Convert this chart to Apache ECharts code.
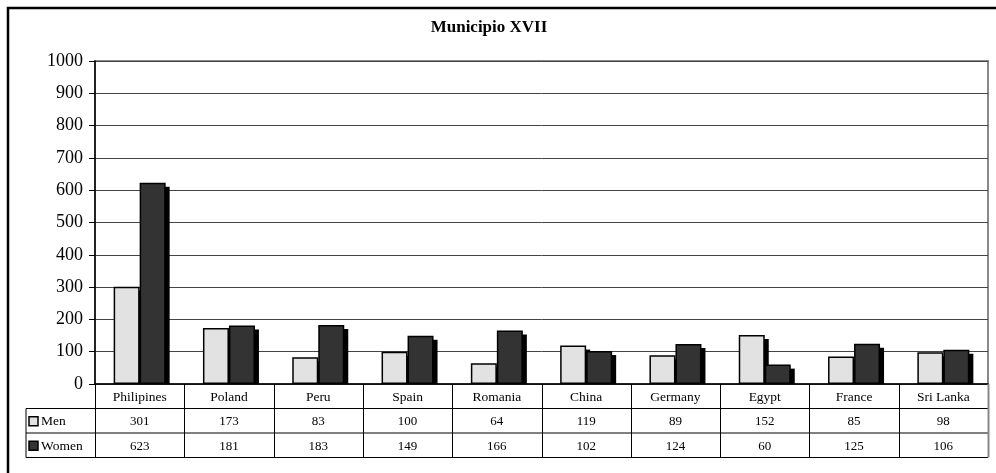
<!DOCTYPE html>
<html><head><meta charset="utf-8">
<script src="https://cdn.jsdelivr.net/npm/echarts@6/dist/echarts.min.js"></script>
<style>html,body{margin:0;padding:0;background:#fff}#c{width:996px;height:473px}</style>
</head><body><div id="c"></div>
<script>
const categories = ['Philipines','Poland','Peru','Spain','Romania','China','Germany','Egypt','France','Sri Lanka'];
const men = [301,173,83,100,64,119,89,152,85,98];
const women = [623,181,183,149,166,102,124,60,125,106];
const seriesNames = ['Men','Women'];
const yTicks = [0,100,200,300,400,500,600,700,800,900,1000];

const FONT = '"Liberation Serif","Times New Roman",serif';
const MEN_COLOR = '#e2e2e2', WOMEN_COLOR = '#333333';
const BAR_W = 26, SH = 4;
const chart = echarts.init(document.getElementById('c'), null, {renderer:'canvas'});

function shadowSeries(arr, idx){
  return {
    type:'custom', z:1, silent:true,
    data: arr.map((v,i)=>[i,v]),
    renderItem:(params, api)=>{
      const top = api.coord([api.value(0), api.value(1)]);
      const base = api.coord([api.value(0), 0]);
      const x = top[0] + (idx===0 ? -BAR_W : 0) + SH;
      const y = Math.min(top[1] + SH, base[1]);
      return {type:'rect', shape:{x:x, y:y, width:BAR_W, height:base[1]-y}, style:{fill:'#000'}};
    }
  };
}
chart.setOption({
  animation:false,
  backgroundColor:'#fff',
  title:{text:'Municipio XVII', left:484, top:14, textAlign:'center',
    textStyle:{fontFamily:FONT, fontSize:17, fontWeight:'bold', color:'#000'}},
  grid:{left:95, right:8, top:61, bottom:89, show:true, borderColor:'#888', borderWidth:2, backgroundColor:'transparent'},
  xAxis:{type:'category', data:categories,
    axisLine:{lineStyle:{color:'#000', width:1.5}}, axisTick:{show:false},
    axisLabel:{show:false}},
  yAxis:{type:'value', min:yTicks[0], max:yTicks[yTicks.length-1], interval:100,
    axisLine:{show:true, lineStyle:{color:'#000', width:1.5}},
    axisTick:{show:true, length:6, lineStyle:{color:'#000'}},
    axisLabel:{fontFamily:FONT, fontSize:18, color:'#000', margin:12, formatter:(v)=>String(v)},
    splitLine:{lineStyle:{color:'#444', width:1}}},
  series:[
    shadowSeries(men,0),
    shadowSeries(women,1),
    {name:seriesNames[0], type:'bar', z:2, data:men, barWidth:BAR_W, barGap:'0%', itemStyle:{color:MEN_COLOR, borderColor:'#000', borderWidth:1.5}},
    {name:seriesNames[1], type:'bar', z:2, data:women, barWidth:BAR_W, barGap:'0%', itemStyle:{color:WOMEN_COLOR, borderColor:'#000', borderWidth:1.5}}
  ]
});

// Data table built from the axis scale
const g = [];
const y0 = chart.convertToPixel({yAxisIndex:0}, 0);
const plotL = 95, plotR = 988;
const rowH = 24.5;
const tableLeft = 26;
const rowsY = [y0, y0+rowH, y0+2*rowH, y0+3*rowH];
// outer chart border
g.push({type:'rect', z:100, shape:{x:8, y:8, width:1000, height:480}, style:{fill:'none', stroke:'#000', lineWidth:2.5}});
// horizontal lines
for (let r=1;r<=3;r++)
  g.push({type:'line', z:101, shape:{x1:tableLeft, y1:rowsY[r], x2:plotR, y2:rowsY[r]}, style:{stroke:'#000', lineWidth:1}});
g.push({type:'line', z:101, shape:{x1:tableLeft, y1:rowsY[1], x2:tableLeft, y2:rowsY[3]}, style:{stroke:'#000', lineWidth:1}});
const bw = (plotR-plotL)/categories.length;
for (let i=0;i<=categories.length;i++){
  const x = Math.round(plotL + i*bw)+0.5;
  g.push({type:'line', z:101, shape:{x1:x, y1:y0, x2:x, y2:rowsY[3]}, style:{stroke: i===categories.length?'#888':'#000', lineWidth: i===categories.length?2:1}});
}
// category labels
categories.forEach((c,i)=>{
  const cx = chart.convertToPixel({xAxisIndex:0}, c);
  g.push({type:'text', z:102, x:cx, y:(rowsY[0]+rowsY[1])/2+1,
    style:{text:c, fill:'#000', font:'13.5px '+FONT, align:'center', verticalAlign:'middle'}});
});
// values
[men, women].forEach((arr, r) => {
  const cy = (rowsY[r+1]+rowsY[r+2])/2 + 1;
  arr.forEach((v, i) => {
    const cx = chart.convertToPixel({xAxisIndex:0}, categories[i]);
    g.push({type:'text', z:102, x:cx, y:cy,
      style:{text:String(v), fill:'#000', font:'13px '+FONT, align:'center', verticalAlign:'middle'}});
  });
  g.push({type:'rect', z:102, shape:{x:tableLeft+3, y:cy-5, width:9, height:9},
    style:{fill: r===0?MEN_COLOR:WOMEN_COLOR, stroke:'#000', lineWidth:1.5}});
  g.push({type:'text', z:102, x:tableLeft+15, y:cy,
    style:{text:seriesNames[r], fill:'#000', font:'13.5px '+FONT, align:'left', verticalAlign:'middle'}});
});
chart.setOption({graphic:g});
</script></body></html>
